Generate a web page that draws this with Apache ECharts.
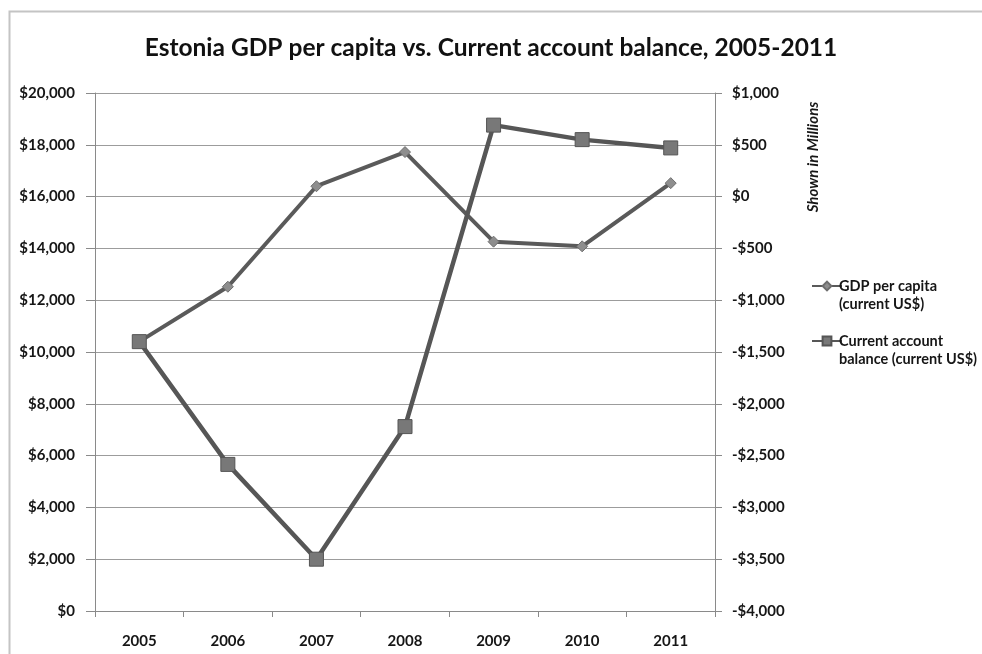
<!DOCTYPE html>
<html>
<head>
<meta charset="utf-8">
<style>
  html, body { margin: 0; padding: 0; background: #ffffff; }
  #chart { width: 982px; height: 654px; }
</style>
<script src="https://cdn.jsdelivr.net/npm/echarts@6/dist/echarts.min.js"></script>
</head>
<body>
<div id="chart"></div>
<script>
// Estonia, 2005-2011
const years = ['2005', '2006', '2007', '2008', '2009', '2010', '2011'];
// GDP per capita, current US$
const gdpPerCapita = [10400, 12520, 16400, 17720, 14260, 14080, 16520];
// Current account balance, current US$ millions
const currentAccount = [-1400, -2585, -3500, -2220, 690, 550, 470];
// Axis ticks
const leftTicks = { min: 0, max: 20000, interval: 2000 };
const rightTicks = { min: -4000, max: 1000, interval: 500 };

const gdpName = 'GDP per capita (current US$)';
const caName = 'Current account balance (current US$)';

const labelFont = { fontFamily: 'Lato', fontWeight: 'bold', fontSize: 15, color: '#161616' };
const axisGray = '#8a8a8a';

function money(v) {
  const s = Math.abs(v).toLocaleString('en-US');
  return (v < 0 ? '-$' : '$') + s;
}

const chart = echarts.init(document.getElementById('chart'), null, { renderer: 'canvas' });

chart.setOption({
  backgroundColor: '#ffffff',
  animation: false,
  title: {
    text: 'Estonia GDP per capita vs. Current account balance, 2005-2011',
    left: 'center',
    top: 31,
    textStyle: { fontFamily: 'Lato', fontWeight: 'bold', fontSize: 24.5, color: '#111111' }
  },
  graphic: [
    {
      type: 'polyline',
      shape: { points: [[9.5, 660], [9.5, 11.5], [990, 11.5]] },
      style: { stroke: '#c4c4c4', lineWidth: 2, fill: null },
      silent: true
    },
    {
      type: 'text',
      x: 813,
      y: 157,
      rotation: Math.PI / 2,
      style: {
        text: 'Shown in Millions',
        fontFamily: 'Lato', fontStyle: 'italic', fontWeight: 'bold', fontSize: 15,
        fill: '#161616', align: 'center', verticalAlign: 'middle'
      }
    }
  ],
  legend: {
    orient: 'vertical',
    left: 806,
    top: 254,
    itemGap: 1,
    itemWidth: 30,
    itemHeight: 11,
    data: [gdpName, caName],
    // leading blank line keeps the first text line level with the legend icon
    formatter: function (name) {
      return name === gdpName ? ' \nGDP per capita\n(current US$)' : ' \nCurrent account\nbalance (current US$)';
    },
    textStyle: {
      fontFamily: 'Lato', fontWeight: 'bold', fontSize: 14.5, color: '#161616',
      lineHeight: 18, padding: [0, 0, 0, -8]
    }
  },
  grid: { left: 95, right: 267, top: 93, bottom: 43, containLabel: false },
  xAxis: {
    type: 'category',
    data: years,
    boundaryGap: true,
    axisLine: { lineStyle: { color: axisGray, width: 1 } },
    axisTick: { show: true, length: 6, lineStyle: { color: axisGray } },
    axisLabel: Object.assign({ margin: 23 }, labelFont),
    splitLine: { show: false }
  },
  yAxis: [
    {
      type: 'value',
      position: 'left',
      min: leftTicks.min, max: leftTicks.max, interval: leftTicks.interval,
      axisLine: { show: true, lineStyle: { color: axisGray } },
      axisTick: { show: true, length: 9, lineStyle: { color: axisGray } },
      axisLabel: Object.assign({ margin: 20, formatter: money }, labelFont),
      splitLine: { show: true, lineStyle: { color: '#9c9c9c', width: 1.2 } }
    },
    {
      type: 'value',
      position: 'right',
      min: rightTicks.min, max: rightTicks.max, interval: rightTicks.interval,
      axisLine: { show: true, lineStyle: { color: axisGray } },
      axisTick: { show: true, length: 7, lineStyle: { color: axisGray } },
      axisLabel: Object.assign({ margin: 17, formatter: money }, labelFont),
      splitLine: { show: false }
    }
  ],
  series: [
    {
      name: gdpName,
      type: 'line',
      yAxisIndex: 0,
      data: gdpPerCapita,
      symbol: 'diamond',
      symbolSize: 11,
      lineStyle: { color: '#5a5a5a', width: 4 },
      itemStyle: { color: '#8e8e8e', borderColor: '#6e6e6e', borderWidth: 1 },
      z: 2
    },
    {
      name: caName,
      type: 'line',
      yAxisIndex: 1,
      data: currentAccount,
      symbol: 'rect',
      symbolSize: 14,
      lineStyle: { color: '#565656', width: 4.5 },
      itemStyle: { color: '#787878', borderColor: '#555555', borderWidth: 1 },
      z: 3
    }
  ]
});
</script>
</body>
</html>
